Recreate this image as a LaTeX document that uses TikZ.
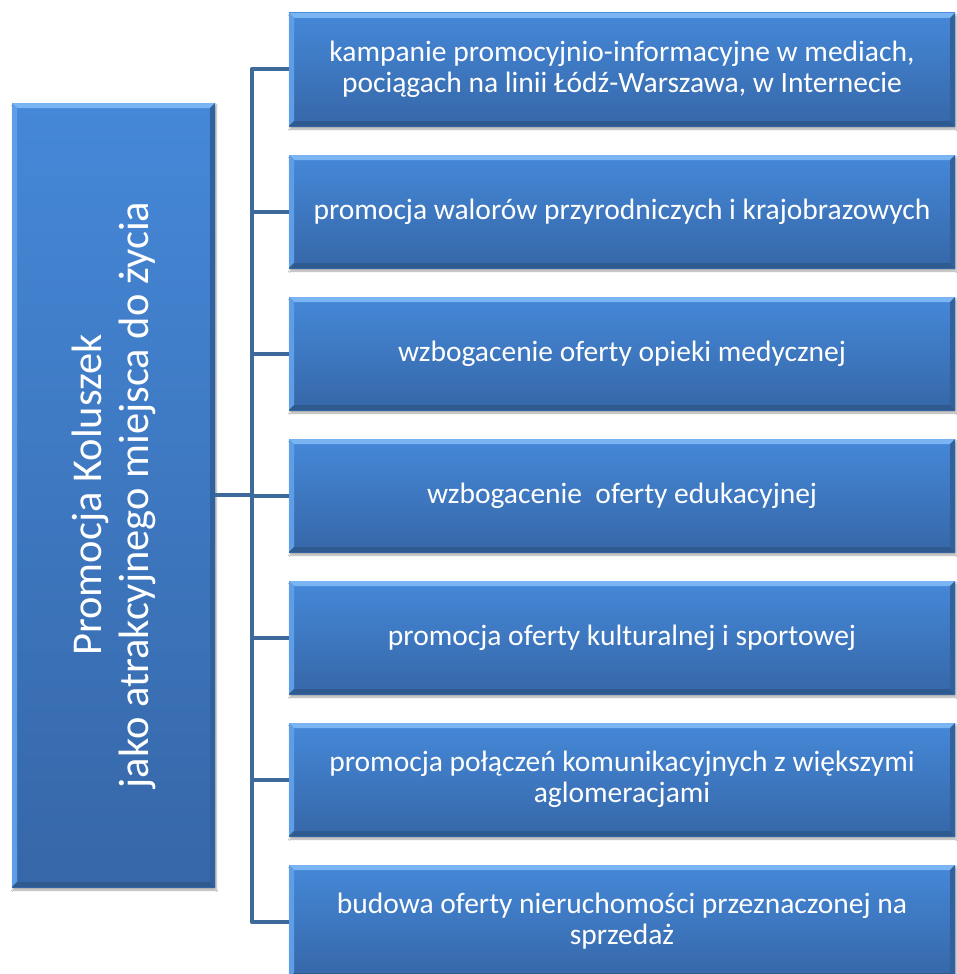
\documentclass[tikz,border=0pt]{standalone}
\usepackage{fontspec}
\setmainfont{Carlito}
\usetikzlibrary{shadows.blur,calc}
\definecolor{boxtop}{HTML}{4588D8}
\definecolor{boxbot}{HTML}{3667A8}
\definecolor{bevT}{HTML}{7AB4F2}
\definecolor{bevL}{HTML}{5E9DE7}
\definecolor{bevB}{HTML}{2E5A90}
\definecolor{bevR}{HTML}{32629E}
\definecolor{conncol}{HTML}{3E6A9B}
\newcommand{\bvw}{5pt}
\tikzset{
  bevelbox/.style={rectangle, inner sep=0pt, outer sep=0pt,
    top color=boxtop, bottom color=boxbot, text=white,
    blur shadow={shadow xshift=1pt, shadow yshift=-3pt, shadow blur steps=6, shadow opacity=35},
    path picture={
      \fill[bevT] (path picture bounding box.north west) -- (path picture bounding box.north east)
        -- ([xshift=-\bvw,yshift=-\bvw]path picture bounding box.north east)
        -- ([xshift=\bvw,yshift=-\bvw]path picture bounding box.north west) -- cycle;
      \fill[bevL] (path picture bounding box.north west) -- (path picture bounding box.south west)
        -- ([xshift=\bvw,yshift=\bvw]path picture bounding box.south west)
        -- ([xshift=\bvw,yshift=-\bvw]path picture bounding box.north west) -- cycle;
      \fill[bevB] (path picture bounding box.south west) -- (path picture bounding box.south east)
        -- ([xshift=-\bvw,yshift=\bvw]path picture bounding box.south east)
        -- ([xshift=\bvw,yshift=\bvw]path picture bounding box.south west) -- cycle;
      \fill[bevR] (path picture bounding box.north east) -- (path picture bounding box.south east)
        -- ([xshift=-\bvw,yshift=\bvw]path picture bounding box.south east)
        -- ([xshift=-\bvw,yshift=-\bvw]path picture bounding box.north east) -- cycle;
    }},
  itembox/.style={bevelbox, minimum width=666pt, minimum height=113pt,
    font=\fontsize{29.5}{31}\selectfont, align=center},
  conn/.style={draw=conncol, line width=4pt, line join=round},
  bigtext/.style={text=white, rotate=90, align=center, font=\fontsize{42.5}{47}\selectfont, inner sep=0pt}
}
\begin{document}
\begin{tikzpicture}[x=1pt,y=-1pt]
\useasboundingbox (0,0) rectangle (957,974);
\fill[white] (0,0) rectangle (957,974);
\coordinate (J) at (251.5,495);
\node[bevelbox, minimum width=203pt, minimum height=784pt] (L) at (113.5,495) {};
\node[bigtext] (Lt) at (L.center) {Promocja Koluszek\\jako atrakcyjnego miejsca do życia};
\node[itembox] (b1) at (622,69.5) {kampanie promocyjnio-informacyjne w mediach,\\pociągach na linii Łódź-Warszawa, w Internecie};
\node[itembox] (b2) at (622,211.5) {promocja walorów przyrodniczych i krajobrazowych};
\node[itembox] (b3) at (622,353.5) {wzbogacenie oferty opieki medycznej};
\node[itembox] (b4) at (622,495.5) {wzbogacenie~ oferty edukacyjnej};
\node[itembox] (b5) at (622,637.5) {promocja oferty kulturalnej i sportowej};
\node[itembox] (b6) at (622,779.5) {promocja połączeń komunikacyjnych z większymi\\aglomeracjami};
\node[itembox] (b7) at (622,921.5) {budowa oferty nieruchomości przeznaczonej na\\sprzedaż};
\draw[conn] (L.east) -- (J);
\draw[conn] (J) |- (b1.west);
\draw[conn] (J) |- (b2.west);
\draw[conn] (J) |- (b3.west);
\draw[conn] (J) |- (b4.west);
\draw[conn] (J) |- (b5.west);
\draw[conn] (J) |- (b6.west);
\draw[conn] (J) |- (b7.west);
\end{tikzpicture}
\end{document}
